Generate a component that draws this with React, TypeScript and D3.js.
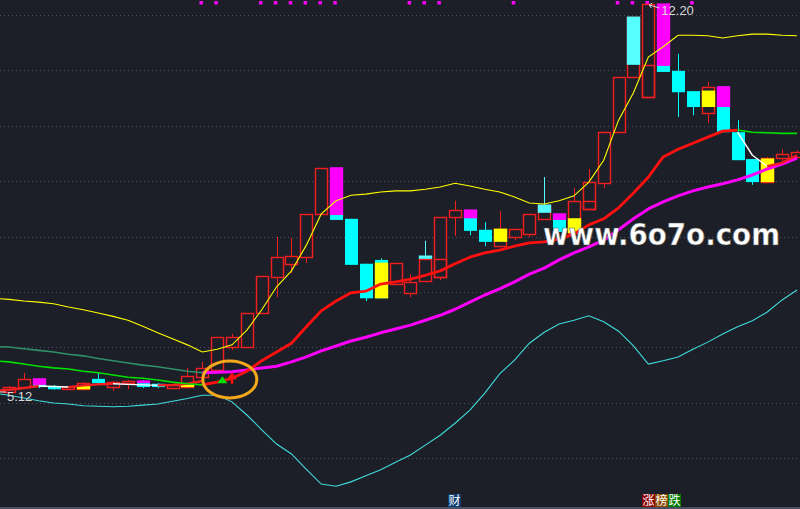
import * as d3 from 'd3';

// ---- candle data (price) ----
const opens = [
    5.12, 5.21, 5.36, 5.23, 5.17, 5.17, 5.36, 5.21, 5.28, 5.32, 5.27, 5.19, 5.21, 5.39, 5.52, 5.94, 5.94, 6.56,
    7.22, 7.46, 7.58, 8.37, 9.21, 8.28, 7.46, 7.53, 7.09, 6.93, 7.15, 7.22, 8.31, 8.44, 8.08, 7.78, 7.95, 8.0,
    8.28, 8.37, 8.02, 8.46, 8.93, 9.86, 10.87, 10.5, 12.2, 10.98, 10.61, 10.21, 10.69, 9.86, 9.37, 8.95, 9.39, 9.41,
];
const closes = [
    5.21, 5.36, 5.21, 5.17, 5.21, 5.28, 5.28, 5.3, 5.32, 5.21, 5.21, 5.25, 5.41, 5.56, 6.12, 6.12, 6.56, 7.24,
    7.58, 7.6, 8.37, 9.21, 8.26, 7.44, 6.83, 6.83, 7.47, 7.13, 7.55, 8.31, 8.44, 8.06, 7.86, 8.09, 8.09, 8.37,
    8.53, 8.04, 8.61, 8.95, 9.86, 10.87, 11.96, 12.2, 10.96, 10.59, 10.32, 10.69, 9.86, 9.35, 8.95, 9.39, 9.46, 9.5,
];
const highs = [
    5.23, 5.47, 5.37, 5.25, 5.23, 5.3, 5.47, 5.32, 5.34, 5.34, 5.28, 5.27, 5.56, 5.67, 6.12, 6.18, 6.56, 7.24,
    7.95, 7.93, 8.37, 9.21, 9.21, 8.28, 7.46, 7.56, 7.47, 7.27, 7.88, 8.31, 8.61, 8.44, 8.22, 8.42, 8.09, 8.37,
    9.04, 8.37, 8.84, 9.19, 9.86, 10.87, 11.96, 12.2, 12.2, 11.29, 10.61, 10.78, 10.69, 10.08, 9.37, 9.41, 9.55, 9.53,
];
const lows = [
    5.12, 5.21, 5.19, 5.16, 5.16, 5.17, 5.27, 5.14, 5.17, 5.19, 5.19, 5.17, 5.21, 5.39, 5.52, 5.89, 5.94, 6.56,
    6.85, 7.29, 7.47, 8.37, 8.26, 7.44, 6.78, 6.83, 7.09, 6.85, 7.15, 7.16, 7.97, 7.98, 7.78, 7.77, 7.89, 7.95,
    8.28, 8.04, 8.02, 8.46, 8.84, 9.86, 10.87, 10.5, 10.96, 10.14, 10.17, 10.03, 9.86, 9.35, 8.9, 8.93, 9.26, 9.41,
];

// indicator boxes drawn over candles: [index, top, bottom, kind]
const overlays: [number, number, number, string][] = [
    [2, 5.36, 5.25, 'magenta'], [5, 5.23, 5.17, 'yellow'], [9, 5.32, 5.28, 'magenta'], [12, 5.25, 5.21, 'yellow'],
    [22, 9.21, 8.35, 'magenta'], [25, 7.47, 6.83, 'yellow'], [28, 7.6, 7.55, 'cyan'], [29, 7.55, 7.22, 'outline'],
    [31, 8.44, 8.29, 'magenta'], [33, 8.09, 7.86, 'yellow'], [36, 8.53, 8.39, 'cyan'], [37, 8.37, 8.26, 'magenta'],
    [38, 8.28, 8.02, 'yellow'], [39, 8.61, 8.46, 'outline'], [42, 11.96, 11.09, 'cyan'], [43, 11.09, 10.5, 'outline'],
    [44, 12.2, 11.07, 'magenta'], [47, 10.61, 10.32, 'yellow'], [48, 10.69, 10.32, 'magenta'], [51, 9.37, 8.95, 'yellow'],
];

const signalDots = [13, 14, 17, 18, 19, 20, 21, 22, 27, 28, 29, 34, 41, 42, 43, 46];

// ---- line data, index -1 .. 53 ----
const LINE_START = -1;
const upperBand = [
    6.83, 6.81, 6.78, 6.76, 6.73, 6.67, 6.62, 6.56, 6.5, 6.43, 6.32, 6.2, 6.09, 5.98, 5.85, 5.9, 5.98, 6.25, 6.62,
    7.04, 7.33, 7.8, 8.37, 8.61, 8.71, 8.73, 8.77, 8.79, 8.79, 8.82, 8.86, 8.93, 8.88, 8.82, 8.77, 8.68, 8.57, 8.55,
    8.61, 8.7, 8.95, 9.35, 10.08, 10.58, 11.23, 11.42, 11.63, 11.63, 11.62, 11.58, 11.62, 11.65, 11.65, 11.63, 11.62,
];
const lowerBand = [
    5.1, 5.06, 5.01, 4.96, 4.92, 4.9, 4.87, 4.86, 4.85, 4.86, 4.88, 4.9, 4.95, 5.0, 5.06, 5.06, 4.94, 4.7, 4.43,
    4.17, 3.99, 3.71, 3.44, 3.4, 3.48, 3.59, 3.7, 3.84, 3.97, 4.15, 4.33, 4.55, 4.79, 5.1, 5.45, 5.7, 6.01, 6.21,
    6.36, 6.43, 6.51, 6.4, 6.23, 5.96, 5.63, 5.69, 5.76, 5.9, 6.03, 6.18, 6.31, 6.42, 6.58, 6.8, 6.98,
];
const midLine = [
    5.69, 5.67, 5.63, 5.59, 5.56, 5.54, 5.5, 5.47, 5.43, 5.39, 5.37, 5.34, 5.3, 5.27, 5.25, 5.3, 5.37, 5.5, 5.69,
    5.85, 6.01, 6.31, 6.6, 6.78, 6.93, 6.96, 7.09, 7.13, 7.18, 7.25, 7.33, 7.46, 7.58, 7.66, 7.71, 7.78, 7.84, 7.86,
    7.91, 8.0, 8.17, 8.28, 8.48, 8.75, 9.04, 9.41, 9.55, 9.66, 9.77, 9.88, 9.9, 9.86, 9.85, 9.84, 9.84,
];
const longLine = [
    5.95, 5.94, 5.91, 5.88, 5.85, 5.81, 5.78, 5.73, 5.69, 5.65, 5.61, 5.58, 5.54, 5.5, 5.47, 5.48, 5.49, 5.52, 5.56,
    5.59, 5.67, 5.76, 5.87, 5.96, 6.05, 6.12, 6.2, 6.27, 6.34, 6.43, 6.52, 6.63, 6.76, 6.89, 7.0, 7.13, 7.27, 7.38,
    7.53, 7.66, 7.77, 7.89, 8.08, 8.28, 8.46, 8.59, 8.7, 8.79, 8.86, 8.92, 8.99, 9.08, 9.19, 9.28, 9.39,
];
const N = null;
const shortLine: (number | null)[] = [
    5.14, 5.16, 5.19, 5.23, 5.22, 5.21, 5.24, 5.26, 5.27, 5.26, 5.25, 5.24, 5.25, 5.27, 5.32,
    N, N, N, N, N, N, N, N, N, N, N, N, N, N, N, N, N, N, N, N, N, N, N, N, N, N, N, N, N, N, N, N, N, N, N,
    9.86, 9.44, 9.24, 9.3, 9.44,
];

const highLabel = { index: 43, price: 12.2, text: '12.20' };
const lowLabel = { index: 0, price: 5.12, text: '5.12' };
const buyMark = { index: 14.35, price: 5.28 };
const arrowMark = { index: 15, low: 5.27, high: 5.48 };
const ring = { index: 14.85, price: 5.35 };

const W = 800;
const H = 509;
const BG = '#1c1f27';
const RED = '#f51e1e';
const fills: Record<string, string> = { magenta: '#ff00ff', yellow: '#ffff00', cyan: '#55ffff' };

const x = d3.scaleLinear().domain([0, 53]).range([9, 797]);
const y = d3.scaleLinear().domain([5.12, 12.2]).range([392, 4]);

type Run = { color: string; width: number; pts: [number, number][] };

// split a series into runs coloured (and sized) by direction
function runs(
    values: (number | null)[],
    up: [string, number],
    down: [string, number],
): Run[] {
    const out: Run[] = [];
    let cur: Run | null = null;
    for (let k = 1; k < values.length; k++) {
        const a = values[k - 1];
        const b = values[k];
        if (a == null || b == null) {
            cur = null;
            continue;
        }
        const [color, width] = b > a ? up : down;
        const i = k - 1 + LINE_START;
        if (cur && cur.color === color) cur.pts.push([i + 1, b]);
        else {
            cur = { color, width, pts: [[i, a], [i + 1, b]] };
            out.push(cur);
        }
    }
    return out;
}

const line = d3
    .line<[number, number]>()
    .x((d) => x(d[0]))
    .y((d) => y(d[1]));

const seq = (v: number[]) => v.map((p, k) => [k + LINE_START, p] as [number, number]);

export default function App() {
    const bodyW = 12;
    const grid = d3.range(9).map((k) => 15 + k * 55.4);

    const candles = opens.map((o, i) => {
        const c = closes[i];
        const up = c >= o;
        const cx = Math.round(x(i)) + 0.5;
        const left = Math.round(x(i) - bodyW / 2) + 0.5;
        const top = y(Math.max(o, c));
        const bot = y(Math.min(o, c));
        const hi = y(highs[i]);
        const lo = y(lows[i]);
        const hasCyanCap = overlays.some((ov) => ov[0] === i && ov[3] === 'cyan');
        const wickColor = up ? (hasCyanCap ? '#55ffff' : RED) : '#00ffff';
        return (
            <g key={i}>
                {up ? (
                    <>
                        {hi < top - 0.5 && <line x1={cx} x2={cx} y1={hi} y2={top} stroke={wickColor} />}
                        {lo > bot + 0.5 && <line x1={cx} x2={cx} y1={bot} y2={lo} stroke={RED} />}
                        <rect
                            x={left}
                            y={Math.round(top) + 0.5}
                            width={bodyW}
                            height={Math.max(Math.round(bot - top), 1)}
                            fill={BG}
                            stroke={RED}
                            strokeWidth={1.4}
                        />
                    </>
                ) : (
                    <>
                        <line x1={cx} x2={cx} y1={hi} y2={lo} stroke="#00ffff" />
                        <rect
                            x={left - 0.5}
                            y={top}
                            width={bodyW + 1}
                            height={Math.max(bot - top, 1)}
                            fill="#00ffff"
                        />
                    </>
                )}
            </g>
        );
    });

    const boxes = overlays.map(([i, t, b, kind], k) => {
        const left = Math.round(x(i) - bodyW / 2) + 0.5;
        if (kind === 'outline') {
            return (
                <rect
                    key={k}
                    x={left}
                    y={Math.round(y(t)) + 0.5}
                    width={bodyW}
                    height={Math.round(y(b) - y(t))}
                    fill="none"
                    stroke={RED}
                    strokeWidth={1.4}
                />
            );
        }
        return (
            <rect
                key={k}
                x={left - 0.7}
                y={y(t) - 0.6}
                width={bodyW + 1.4}
                height={y(b) - y(t) + 0.6}
                fill={fills[kind]}
            />
        );
    });

    const drawRuns = (rs: Run[], key: string) =>
        rs.map((r, k) => (
            <path
                key={key + k}
                d={line(r.pts) ?? ''}
                fill="none"
                stroke={r.color}
                strokeWidth={r.width}
                strokeLinejoin="round"
            />
        ));

    const hx = x(highLabel.index);
    const hy = y(highLabel.price);
    const lx = x(lowLabel.index);
    const ly = y(lowLabel.price);

    const ax = x(arrowMark.index);
    const aTop = y(arrowMark.high);
    const aBot = y(arrowMark.low);
    const bx = x(buyMark.index);
    const by = y(buyMark.price);

    const tags = [
        { text: '财', x: 448, bg: '#0b3d72' },
        { text: '涨', x: 642, bg: '#8a0000' },
        { text: '榜', x: 655, bg: '#8a4a00' },
        { text: '跌', x: 668, bg: '#007a00' },
    ];

    return (
        <>
            <style>{'body{margin:0;background:' + BG + '}'}</style>
            <svg width={W} height={H} style={{ display: 'block', background: BG }}>
                <rect width={W} height={H} fill={BG} />
                {grid.map((gy, k) => (
                    <line
                        key={k}
                        x1={0}
                        x2={W}
                        y1={Math.round(gy) + 0.5}
                        y2={Math.round(gy) + 0.5}
                        stroke="#4a505c"
                        strokeDasharray="1 3"
                    />
                ))}

                {signalDots.map((i) => (
                    <rect key={i} x={x(i) - 2.8} y={1} width={3.5} height={3.5} fill="#ff00ff" />
                ))}

                {candles}
                {boxes}

                <path d={line(seq(upperBand)) ?? ''} fill="none" stroke="#ffff00" strokeWidth={1.1} />
                <path d={line(seq(lowerBand)) ?? ''} fill="none" stroke="#3fdcdc" strokeWidth={1.1} />
                {drawRuns(runs(longLine, ['#ff00ff', 3], ['#2f8f68', 1.6]), 'l')}
                {drawRuns(runs(shortLine, [RED, 2.4], ['#ffffff', 1.4]), 's')}
                {drawRuns(runs(midLine, ['#ff1010', 2.8], ['#00e000', 1.6]), 'm')}

                {/* signal markers */}
                <path d={`M${bx},${by - 7}L${bx + 5},${by}L${bx - 5},${by}Z`} fill="#00e000" />
                <path
                    d={`M${ax},${aTop}L${ax + 5},${aTop + 7}L${ax + 1.2},${aTop + 7}L${ax + 1.2},${aBot}L${ax - 1.2},${aBot}L${ax - 1.2},${aTop + 7}L${ax - 5},${aTop + 7}Z`}
                    fill="#ff1010"
                />
                <ellipse
                    cx={x(ring.index)}
                    cy={y(ring.price)}
                    rx={27}
                    ry={18.5}
                    fill="none"
                    stroke="#f5a81c"
                    strokeWidth={3}
                />

                {/* extreme labels */}
                <path
                    d={`M${hx + 11},${hy + 4}L${hx + 1},${hy + 1}M${hx + 1},${hy + 1}L${hx + 4},${hy - 1}M${hx + 1},${hy + 1}L${hx + 3},${hy + 4}`}
                    stroke="#d8d8d8"
                    strokeWidth={1}
                    fill="none"
                />
                <text
                    x={hx + 13}
                    y={hy + 11}
                    fill="#d8d8d8"
                    fontSize={13}
                    fontFamily="Liberation Sans, Arial, sans-serif"
                >
                    {highLabel.text}
                </text>
                <path d={`M${lx - 9},${ly}L${lx - 3},${ly}`} stroke="#d8d8d8" strokeWidth={1} />
                <text
                    x={lx - 2}
                    y={ly + 9}
                    fill="#d8d8d8"
                    fontSize={13}
                    fontFamily="Liberation Sans, Arial, sans-serif"
                >
                    {lowLabel.text}
                </text>

                {/* watermark */}
                <text
                    x={543}
                    y={245}
                    fill="#ffffff"
                    stroke="#555"
                    strokeWidth={0.6}
                    fontSize={30}
                    fontWeight="bold"
                    fontFamily="DejaVu Sans, sans-serif"
                    textLength={237}
                    lengthAdjust="spacingAndGlyphs"
                >
                    www.6o7o.com
                </text>

                {/* bottom tags */}
                {tags.map((t) => (
                    <g key={t.text}>
                        <rect x={t.x} y={494} width={13} height={13} fill={t.bg} />
                        <text
                            x={t.x + 6.5}
                            y={505}
                            fill="#ffffff"
                            fontSize={12}
                            textAnchor="middle"
                            fontFamily="Noto Sans CJK SC, sans-serif"
                        >
                            {t.text}
                        </text>
                    </g>
                ))}
                <rect x={0} y={507} width={W} height={2} fill="#4a5062" />
            </svg>
        </>
    );
}
